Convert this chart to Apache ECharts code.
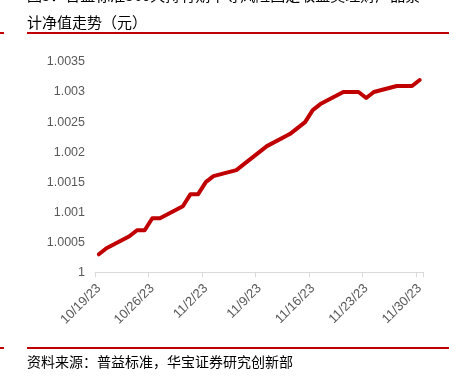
<!DOCTYPE html>
<html>
<head>
<meta charset="utf-8">
<script src="https://cdn.jsdelivr.net/npm/echarts@6/dist/echarts.min.js"></script>
<style>
html,body{margin:0;padding:0;background:#fff;}
#c{width:461px;height:381px;}
</style>
</head>
<body>
<div id="c"></div>
<script>
// Business-day dates and cumulative net values
var dates = ['2023-10-19','2023-10-20','2023-10-23','2023-10-24','2023-10-25','2023-10-26','2023-10-27',
  '2023-10-30','2023-10-31','2023-11-01','2023-11-02','2023-11-03',
  '2023-11-06','2023-11-07','2023-11-08','2023-11-09','2023-11-10',
  '2023-11-13','2023-11-14','2023-11-15','2023-11-16','2023-11-17',
  '2023-11-20','2023-11-21','2023-11-22','2023-11-23','2023-11-24',
  '2023-11-27','2023-11-28','2023-11-29','2023-11-30'];
var values = [1.0003,1.0004,1.0006,1.0007,1.0007,1.0009,1.0009,
  1.0011,1.0013,1.0013,1.0015,1.0016,
  1.0017,1.0018,1.0019,1.0020,1.0021,
  1.0023,1.0024,1.0025,1.0027,1.0028,
  1.0030,1.0030,1.0030,1.0029,1.0030,
  1.0031,1.0031,1.0031,1.0032];
var yMin = 1, yMax = 1.0035, yStep = 0.0005;
var titleLine1 = '图5：普益标准360天持有期中等风险固定收益类理财产品累';
var titleLine2 = '计净值走势（元）';
var sourceText = '资料来源：普益标准，华宝证券研究创新部';

// Build the full calendar-day category list (date axis), nulls on non-trading days
function fmt(d){return (d.getMonth()+1)+'/'+d.getDate()+'/'+String(d.getFullYear()).slice(2);}
var map = {};
dates.forEach(function(s,i){map[s]=values[i];});
var cats = [], series = [];
var start = new Date(dates[0]+'T00:00:00'), end = new Date(dates[dates.length-1]+'T00:00:00');
for (var d = new Date(start); d <= end; d.setDate(d.getDate()+1)) {
  var key = d.getFullYear()+'-'+String(d.getMonth()+1).padStart(2,'0')+'-'+String(d.getDate()).padStart(2,'0');
  cats.push(fmt(d));
  series.push(map.hasOwnProperty(key) ? map[key] : null);
}

var chart = echarts.init(document.getElementById('c'), null, {renderer:'canvas'});
var CJK = '"Noto Sans CJK SC", sans-serif';
chart.setOption({
  animation:false,
  backgroundColor:'#ffffff',
  grid:{left:95,right:37.5,top:62,bottom:108.7,outerBoundsMode:'none',containLabel:false},
  xAxis:{
    type:'category',
    data:cats,
    boundaryGap:true,
    axisLine:{lineStyle:{color:'#d9d9d9',width:1}},
    axisTick:{show:true,interval:function(i){return i%7===0;},length:5,lineStyle:{color:'#d9d9d9'}},
    axisLabel:{interval:6,rotate:45,margin:14,color:'#595959',fontSize:13,fontFamily:'"Liberation Sans", Arial, sans-serif'},
    splitLine:{show:false}
  },
  yAxis:{
    type:'value',
    min:yMin,max:yMax,interval:yStep,
    axisLine:{show:false},axisTick:{show:false},
    splitLine:{show:false},
    axisLabel:{margin:10,color:'#595959',fontSize:12.5,fontFamily:'"Liberation Sans", Arial, sans-serif',
      formatter:function(v){return String(parseFloat(v.toFixed(4)));}}
  },
  series:[{
    type:'line',
    data:series,
    connectNulls:true,
    showSymbol:false,
    symbol:'none',
    lineStyle:{color:'#c00000',width:4,join:'round',cap:'round'}
  }],
  graphic:[
    {type:'text',left:27,top:-12,style:{text:titleLine1,font:'15px '+CJK,fill:'#000'}},
    {type:'text',left:27,top:15,style:{text:titleLine2,font:'15px '+CJK,fill:'#000'}},
    {type:'rect',shape:{x:27,y:32,width:422,height:2},style:{fill:'#c00000'}},
    {type:'rect',shape:{x:0,y:32,width:4,height:2},style:{fill:'#c00000'}},
    {type:'rect',shape:{x:27,y:347,width:422,height:2},style:{fill:'#c00000'}},
    {type:'rect',shape:{x:0,y:347,width:4,height:2},style:{fill:'#c00000'}},
    {type:'text',left:27,top:355,style:{text:sourceText,font:'14px '+CJK,fill:'#000'}}
  ]
});
</script>
</body>
</html>
